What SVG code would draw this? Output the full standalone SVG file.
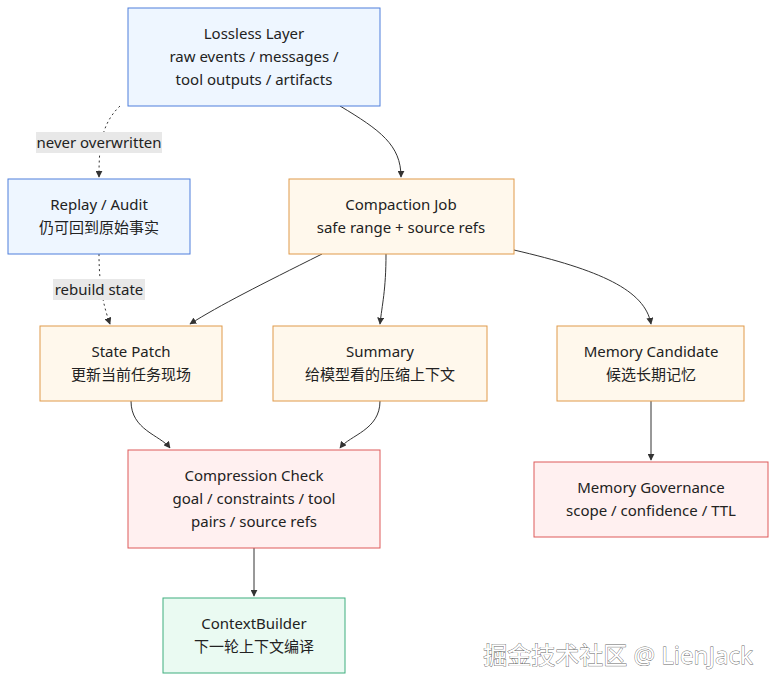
<svg xmlns="http://www.w3.org/2000/svg" width="784" height="689" viewBox="0 0 784 689">
<style>
text{font-family:"Noto Sans","Noto Sans CJK SC",sans-serif;font-size:15px;fill:#222;text-anchor:middle}
.blue{fill:#eef6ff;stroke:#4f7fdc;stroke-width:1}
.org{fill:#fff8ec;stroke:#e09a4a;stroke-width:1}
.red{fill:#fff0f0;stroke:#de5a5a;stroke-width:1}
.grn{fill:#eafaf2;stroke:#3fae7e;stroke-width:1}
.e{fill:none;stroke:#333;stroke-width:1;marker-end:url(#a)}
.d{stroke-dasharray:2 3}
.lb{fill:#e8e8e8}
</style>
<defs><marker id="a" viewBox="0 0 10 10" refX="9" refY="5" markerWidth="7" markerHeight="7" orient="auto"><path d="M0,0L10,5L0,10z" fill="#333"/></marker></defs>
<g id="edges">
<path class="e d" d="M120,106 C100,125 99,150 99,177"/>
<rect class="lb" x="36" y="132" width="126" height="21"/><text x="99" y="148">never overwritten</text>
<path class="e" d="M340,106 C380,130 401,145 401,177"/>
<path class="e d" d="M99,254 C99,290 105,310 110,324"/>
<rect class="lb" x="53" y="279" width="92" height="21"/><text x="99" y="295">rebuild state</text>
<path class="e" d="M322,254 C260,285 220,305 190,324"/>
<path class="e" d="M386,254 C386,290 382,305 380,324"/>
<path class="e" d="M514,250 C600,270 645,290 651,324"/>
<path class="e" d="M131,401 C131,430 160,435 170,448"/>
<path class="e" d="M380,401 C380,430 350,435 340,448"/>
<path class="e" d="M651,401 L651,460"/>
<path class="e" d="M254,548 L254,596"/>
</g>
<g id="lossless"><rect class="blue" x="128" y="8" width="252" height="98"/><text x="254" y="39">Lossless Layer</text><text x="254" y="62">raw events / messages /</text><text x="254" y="85">tool outputs / artifacts</text></g>
<g id="replay"><rect class="blue" x="8" y="179" width="182" height="75"/><text x="99" y="210">Replay / Audit</text><text x="99" y="233">仍可回到原始事实</text></g>
<g id="compaction"><rect class="org" x="289" y="179" width="225" height="75"/><text x="401" y="210">Compaction Job</text><text x="401" y="233">safe range + source refs</text></g>
<g id="statepatch"><rect class="org" x="40" y="326" width="182" height="75"/><text x="131" y="357">State Patch</text><text x="131" y="380">更新当前任务现场</text></g>
<g id="summary"><rect class="org" x="273" y="326" width="214" height="75"/><text x="380" y="357">Summary</text><text x="380" y="380">给模型看的压缩上下文</text></g>
<g id="memcand"><rect class="org" x="557" y="326" width="187" height="75"/><text x="651" y="357">Memory Candidate</text><text x="651" y="380">候选长期记忆</text></g>
<g id="check"><rect class="red" x="128" y="450" width="252" height="98"/><text x="254" y="481">Compression Check</text><text x="254" y="504">goal / constraints / tool</text><text x="254" y="527">pairs / source refs</text></g>
<g id="gov"><rect class="red" x="534" y="462" width="234" height="75"/><text x="651" y="493">Memory Governance</text><text x="651" y="516">scope / confidence / TTL</text></g>
<g id="ctx"><rect class="grn" x="163" y="598" width="182" height="75"/><text x="254" y="629">ContextBuilder</text><text x="254" y="652">下一轮上下文编译</text></g>
<text x="618" y="664" style="font-size:24px;fill:#fff;stroke:#666;stroke-width:0.8;paint-order:stroke">掘金技术社区 @ LienJack</text>
</svg>
